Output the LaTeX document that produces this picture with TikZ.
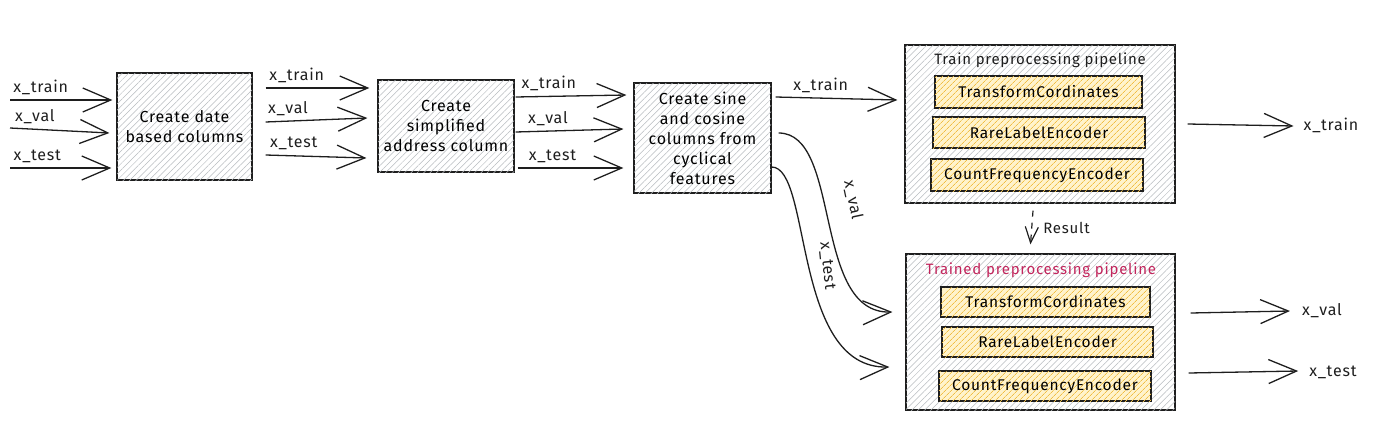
\documentclass[tikz,border=0pt]{standalone}
\usepackage{fontspec}
\setmainfont{Fira Sans}[LetterSpace=5]
\usetikzlibrary{arrows.meta,patterns.meta}
\definecolor{ink}{HTML}{1E1E1E}
\definecolor{hatchgray}{HTML}{B8BCC0}
\definecolor{hatchyel}{HTML}{F0BE45}
\definecolor{fillyel}{HTML}{FFF3CC}
\definecolor{crimson}{HTML}{C2255C}
\tikzset{
  x=1pt,y=-1pt,
  procbox/.style={draw=ink, line width=1.2pt, fill=white,
    postaction={pattern={Lines[angle=45,distance=4.5pt,line width=0.5pt]}, pattern color=hatchgray},
    align=center, font=\fontsize{16}{20}\selectfont, inner sep=2pt},
  pipebox/.style={draw=ink, line width=1.2pt, fill=white,
    postaction={pattern={Lines[angle=45,distance=4.5pt,line width=0.5pt]}, pattern color=hatchgray}},
  stepitem/.style={draw=ink, line width=1.2pt, fill=fillyel,
    postaction={pattern={Lines[angle=45,distance=4pt,line width=0.7pt]}, pattern color=hatchyel},
    font=\fontsize{15.5}{18}\selectfont, inner sep=0pt},
  flow/.style={draw=ink, line width=1.3pt, -{Straight Barb[length=28pt,width=24pt,line width=1.3pt]}},
  lbl/.style={font=\fontsize{16}{19}\selectfont, text=ink, inner sep=1pt},
  ttl/.style={font=\fontsize{15}{18}\selectfont, inner sep=1pt},
}
\begin{document}
\begin{tikzpicture}
\useasboundingbox (0,0) rectangle (1379,431);

% process boxes
\node[procbox, minimum width=135pt, minimum height=107pt] (b1) at (184.5,126.5) {Create date\\based columns};
\node[procbox, minimum width=136pt, minimum height=92pt] (b2) at (446,126) {Create\\simplified\\address column};
\node[procbox, minimum width=137pt, minimum height=110pt] (b3) at (702.5,138) {Create sine\\and cosine\\columns from\\cyclical\\features};

% train pipeline
\node[pipebox, minimum width=270pt, minimum height=158pt] (train) at (1040,124) {};
\node[ttl, text=ink] (ttrain) at (1040,60) {Train preprocessing pipeline};
\node[stepitem, minimum width=207pt, minimum height=32pt] (t1) at (1038.5,92) {TransformCordinates};
\node[stepitem, minimum width=212pt, minimum height=31pt] (t2) at (1039,132.5) {RareLabelEncoder};
\node[stepitem, minimum width=212pt, minimum height=32pt] (t3) at (1037,175) {CountFrequencyEncoder};

% trained pipeline
\node[pipebox, minimum width=269pt, minimum height=156pt] (trained) at (1040.5,332) {};
\node[ttl, text=crimson] (ttrained) at (1041,270) {Trained preprocessing pipeline};
\node[stepitem, minimum width=209pt, minimum height=30pt] (s1) at (1045.5,302) {TransformCordinates};
\node[stepitem, minimum width=211pt, minimum height=30pt] (s2) at (1047.5,342) {RareLabelEncoder};
\node[stepitem, minimum width=212pt, minimum height=30pt] (s3) at (1045,386) {CountFrequencyEncoder};

% inputs
\coordinate (in1) at (10,100);
\coordinate (in2) at (10,128);
\coordinate (in3) at (10,168);
\draw[flow] (in1) -- node[lbl, pos=0.3, above=4pt] {x\_train} ([xshift=-4pt,yshift=26.5pt]b1.west);
\draw[flow] (in2) -- node[lbl, pos=0.25, above=4pt] {x\_val} ([xshift=-7pt,yshift=-6.5pt]b1.west);
\draw[flow] (in3) -- node[lbl, pos=0.27, above=4pt] {x\_test} ([xshift=-5pt,yshift=-41.5pt]b1.west);

% b1 -> b2
\draw[flow] ([xshift=13pt,yshift=38.5pt]b1.east) -- node[lbl, pos=0.3, above=4pt] {x\_train} ([xshift=-8pt,yshift=38pt]b2.west);
\draw[flow] ([xshift=13pt,yshift=4.5pt]b1.east) -- node[lbl, pos=0.22, above=4pt] {x\_val} ([xshift=-10pt,yshift=8pt]b2.west);
\draw[flow] ([xshift=13pt,yshift=-28.5pt]b1.east) -- node[lbl, pos=0.28, above=4pt] {x\_test} ([xshift=-11pt,yshift=-32pt]b2.west);

% b2 -> b3
\draw[flow] ([xshift=1pt,yshift=29pt]b2.east) -- node[lbl, pos=0.3, above=4pt] {x\_train} ([xshift=-7pt,yshift=43pt]b3.west);
\draw[flow] ([xshift=1pt,yshift=-6pt]b2.east) -- node[lbl, pos=0.3, above=4pt] {x\_val} ([xshift=-10pt,yshift=9pt]b3.west);
\draw[flow] ([xshift=3pt,yshift=-42pt]b2.east) -- node[lbl, pos=0.33, above=4pt] {x\_test} ([xshift=-10pt,yshift=-30pt]b3.west);

% b3 -> pipelines
\draw[flow] ([xshift=4pt,yshift=41pt]b3.east) -- node[lbl, pos=0.37, above=4pt] {x\_train} ([xshift=-7pt,yshift=24pt]train.west);
\draw[flow] ([xshift=7pt,yshift=5pt]b3.east) .. controls (842,133) and (812,314) .. ([xshift=-13pt,yshift=20pt]trained.west);
\draw[flow] (b3.east |- 0,167) .. controls (812,167) and (792,369) .. ([xshift=-16pt,yshift=-35pt]trained.west);
\node[lbl, rotate=-78] (lval) at (853,200) {x\_val};
\node[lbl, rotate=-84] (ltest) at (827,266) {x\_test};

% result
\draw[draw=ink, line width=1.2pt, dash pattern=on 6pt off 6pt,
  -{Straight Barb[length=16pt,width=13pt,line width=1.2pt]}]
  ([xshift=-7pt,yshift=-7pt]train.south) -- node[lbl, right=10pt, pos=0.5, font=\fontsize{15}{18}\selectfont] {Result} ([xshift=-10pt,yshift=9pt]trained.north);

% outputs
\node[lbl] (otrain) at (1331,125) {x\_train};
\node[lbl] (oval) at (1322,311) {x\_val};
\node[lbl] (otest) at (1333,372) {x\_test};
\draw[flow] ([xshift=12pt]train.east) -- ([xshift=-9pt,yshift=-1pt]otrain.west);
\draw[flow] ([xshift=15pt,yshift=19pt]trained.east) -- ([xshift=-11pt]oval.west);
\draw[flow] ([xshift=13pt,yshift=-41pt]trained.east) -- ([xshift=-10pt,yshift=1pt]otest.west);
\end{tikzpicture}
\end{document}
